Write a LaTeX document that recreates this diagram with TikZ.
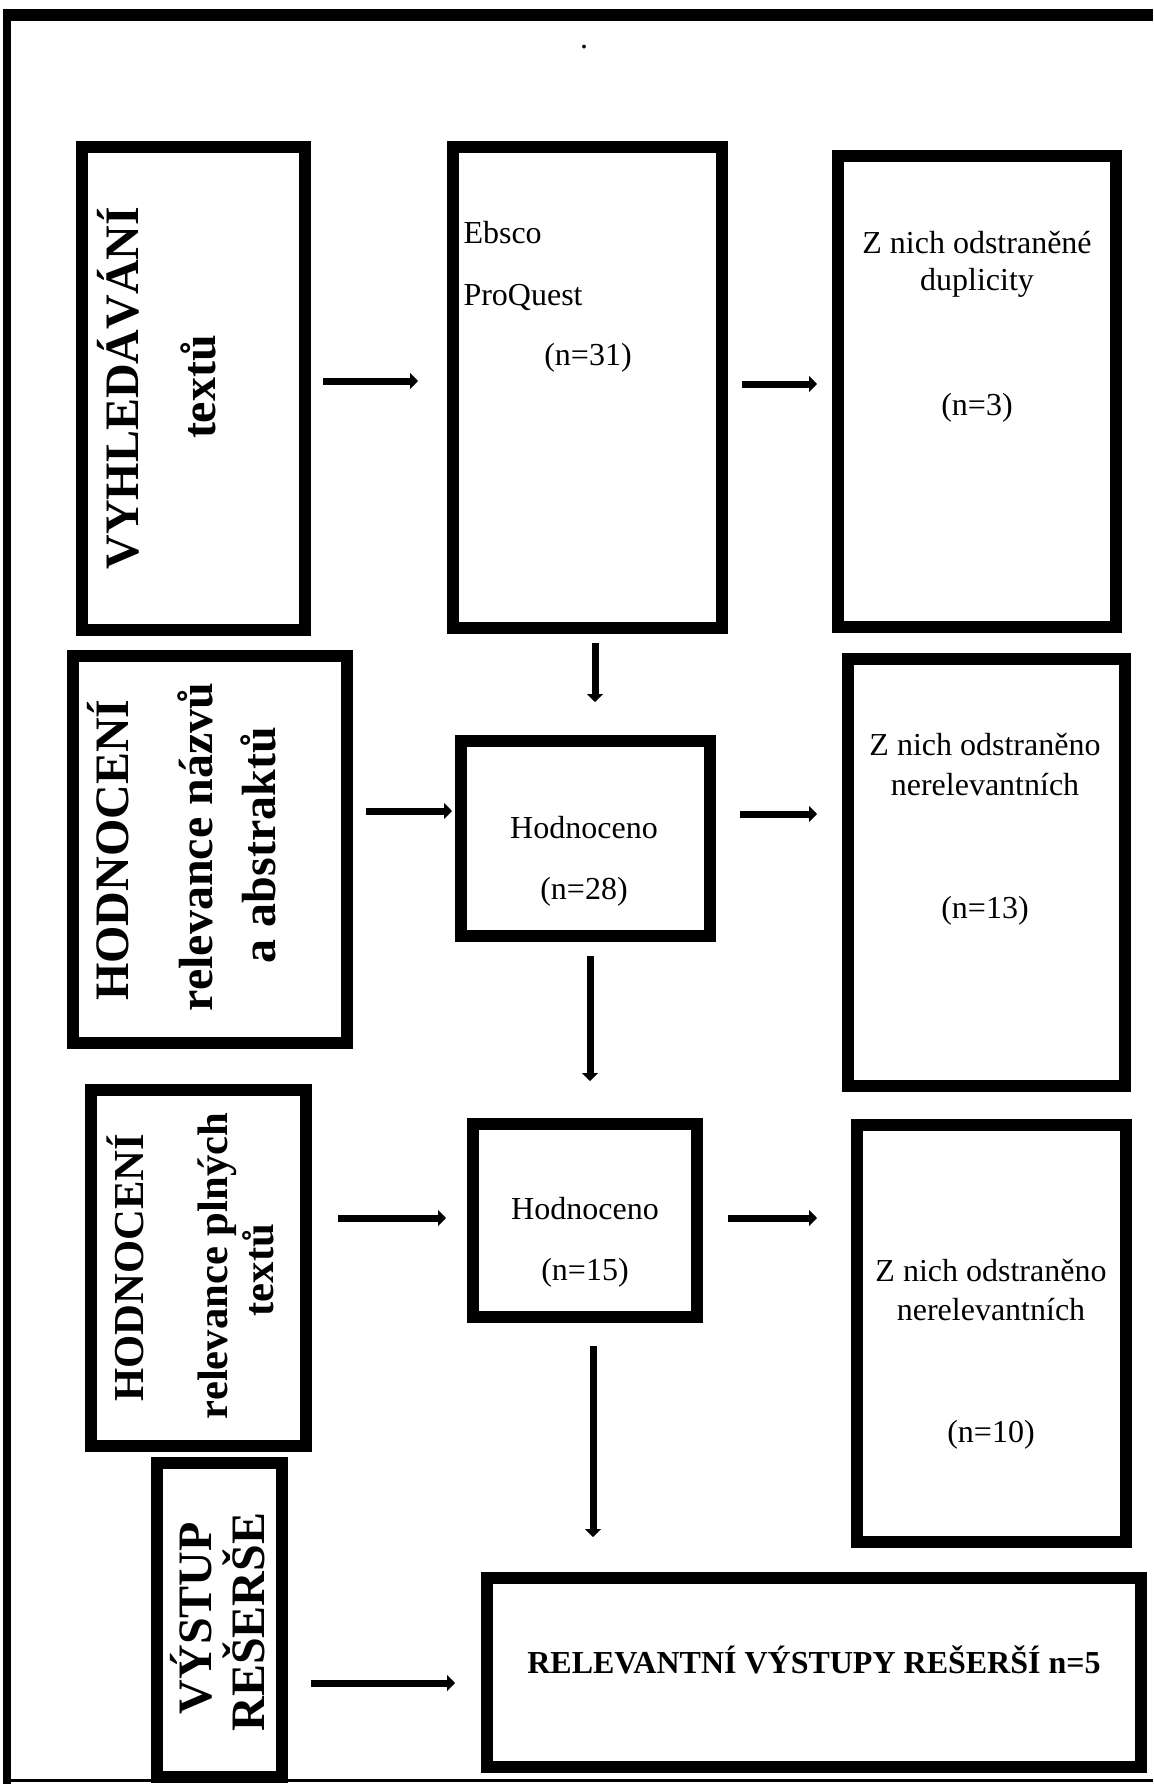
\documentclass[tikz,border=0pt]{standalone}
\usepackage{fontspec}
\setmainfont{Liberation Serif}
\usetikzlibrary{arrows.meta}
\begin{document}
\begin{tikzpicture}[x=0.375pt,y=-0.375pt,
  box/.style={draw, line width=4.5pt, outer sep=0pt, inner sep=0pt},
  txt/.style={inner sep=0pt, font=\fontsize{12}{14}\selectfont, anchor=base},
  rot/.style={inner sep=0pt, font=\bfseries\fontsize{18}{20}\selectfont, rotate=90, anchor=base},
  rots/.style={rot, font=\bfseries\fontsize{16}{18}\selectfont},
  arr/.style={line width=2.625pt, -{Triangle[width=6pt,length=3pt]}}]
\useasboundingbox (0,0) rectangle (1153,1784);
% frame
\draw[line width=4.5pt] (3,15) -- (1153,15);
\draw[line width=3pt] (7,9) -- (7,1784);
\draw[line width=1.125pt] (3,1780) -- (1153,1780);
\node[txt] (dot) at (584,49) {.};
% boxes
\node[box, minimum width=83.625pt, minimum height=181.125pt] (A) at (193.5,388.5) {};
\node[box, minimum width=100.875pt, minimum height=180.375pt] (B) at (587.5,387.5) {};
\node[box, minimum width=104.25pt, minimum height=176.625pt] (C) at (977,391.5) {};
\node[box, minimum width=102.75pt, minimum height=145.125pt] (D) at (210,849.5) {};
\node[box, minimum width=93.375pt, minimum height=73.125pt] (E) at (585.5,838.5) {};
\node[box, minimum width=103.875pt, minimum height=160.125pt] (F) at (986.5,872.5) {};
\node[box, minimum width=80.625pt, minimum height=133.5pt] (G) at (198.5,1268) {};
\node[box, minimum width=84pt, minimum height=72.375pt] (H) at (585,1220.5) {};
\node[box, minimum width=100.875pt, minimum height=156.375pt] (I) at (991.5,1333.5) {};
\node[box, minimum width=46.875pt, minimum height=117.75pt] (J) at (219.5,1620) {};
\node[box, minimum width=245.25pt, minimum height=70.875pt] (K) at (814,1672.5) {};
% texts
\node[rot] (tA1) at (138,388) {VYHLEDÁVÁNÍ};
\node[rot] (tA2) at (215,387) {textů};
\node[txt, anchor=base west] (tB1) at (463,243) {Ebsco};
\node[txt, anchor=base west] (tB2) at (463,305) {ProQuest};
\node[txt] (tB3) at (588,365) {(n=31)};
\node[txt] (tC1) at (977,253) {Z nich odstraněné};
\node[txt] (tC2) at (977,290) {duplicity};
\node[txt] (tC3) at (977,415) {(n=3)};
\node[rot] (tD1) at (128,850) {HODNOCENÍ};
\node[rot] (tD2) at (212,847) {relevance názvů};
\node[rot] (tD3) at (275,845) {a abstraktů};
\node[txt] (tE1) at (584,838) {Hodnoceno};
\node[txt] (tE2) at (584,899) {(n=28)};
\node[txt] (tF1) at (985,755) {Z nich odstraněno};
\node[txt] (tF2) at (985,795) {nerelevantních};
\node[txt] (tF3) at (985,918) {(n=13)};
\node[rots] (tG1) at (143,1268) {HODNOCENÍ};
\node[rots] (tG2) at (227,1266) {relevance plných};
\node[rots] (tG3) at (273,1270) {textů};
\node[txt] (tH1) at (585,1219) {Hodnoceno};
\node[txt] (tH2) at (585,1280) {(n=15)};
\node[txt] (tI1) at (991,1281) {Z nich odstraněno};
\node[txt] (tI2) at (991,1320) {nerelevantních};
\node[txt] (tI3) at (991,1442) {(n=10)};
\node[rot] (tJ1) at (211,1618) {VÝSTUP};
\node[rot] (tJ2) at (264,1622) {REŠERŠE};
\node[txt, font=\bfseries\fontsize{12}{14}\selectfont] (tK) at (814,1673) {RELEVANTNÍ VÝSTUPY REŠERŠÍ n=5};
% arrows
\draw[arr, shorten <=6.75pt, shorten >=13.125pt] (A.east |- 0,381) -- (B.west |- 0,381);
\draw[arr, shorten <=7.5pt, shorten >=7.875pt] (B.east |- 0,384) -- (C.west |- 0,384);
\draw[arr, shorten <=5.625pt, shorten >=14.625pt] (B.south -| 595,0) -- (E.north -| 595,0);
\draw[arr, shorten <=7.125pt, shorten >=3.375pt] (D.east |- 0,811) -- (E.west |- 0,811);
\draw[arr, shorten <=11.25pt, shorten >=11.625pt] (E.east |- 0,814) -- (F.west |- 0,814);
\draw[arr, shorten <=7.5pt, shorten >=16.125pt] (E.south -| 590,0) -- (H.north -| 590,0);
\draw[arr, shorten <=12pt, shorten >=10.125pt] (G.east |- 0,1218) -- (H.west |- 0,1218);
\draw[arr, shorten <=11.625pt, shorten >=15pt] (H.east |- 0,1218) -- (I.west |- 0,1218);
\draw[arr, shorten <=10.875pt, shorten >=15.375pt] (H.south -| 593,0) -- (K.north -| 593,0);
\draw[arr, shorten <=10.875pt, shorten >=12pt] (J.east |- 0,1683) -- (K.west |- 0,1683);
\end{tikzpicture}
\end{document}
